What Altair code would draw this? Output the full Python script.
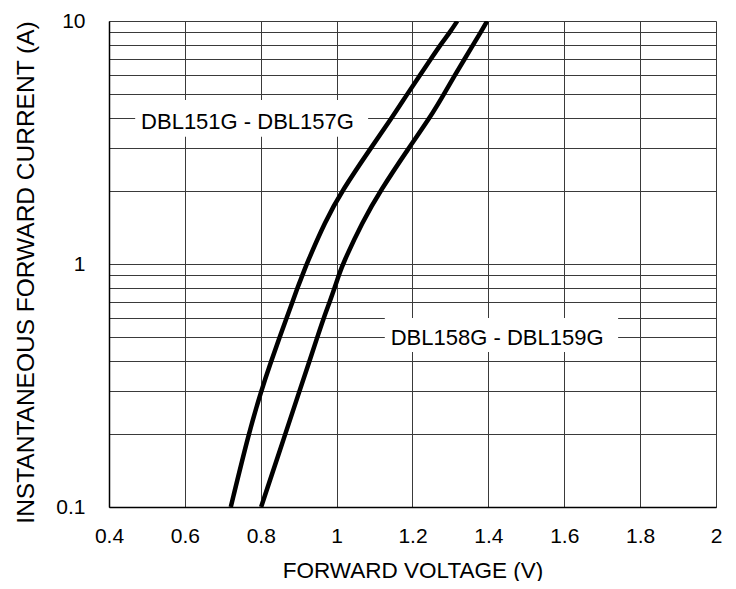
import altair as alt
import pandas as pd

# Forward current (A) at which each voltage was read
current = [0.1, 0.2, 0.3, 0.4, 0.5, 0.6, 0.7, 0.8, 0.9, 1, 1.5, 2, 3, 4, 5, 6, 7, 8, 9, 10]
# Forward voltage (V) for each series
v_151_157 = [0.721, 0.768, 0.801, 0.828, 0.850, 0.868, 0.884, 0.897, 0.910, 0.921,
             0.970, 1.014, 1.090, 1.146, 1.186, 1.220, 1.249, 1.274, 1.299, 1.318]
v_158_159 = [0.801, 0.865, 0.902, 0.929, 0.949, 0.966, 0.982, 0.995, 1.006, 1.016,
             1.069, 1.115, 1.190, 1.246, 1.283, 1.312, 1.338, 1.360, 1.380, 1.397]
series_names = ["DBL151G - DBL157G", "DBL158G - DBL159G"]

# annotation labels (data coordinates)
label_v = [0.765, 1.423]
label_i = [3.85, 0.496]
box_v0 = [0.469, 1.127]
box_v1 = [1.083, 1.742]
box_i0 = [3.34, 0.434]
box_i1 = [4.73, 0.60]

x_ticks = [0.4, 0.6, 0.8, 1.0, 1.2, 1.4, 1.6, 1.8, 2.0]
y_ticks = [0.1, 0.2, 0.3, 0.4, 0.5, 0.6, 0.7, 0.8, 0.9,
           1, 2, 3, 4, 5, 6, 7, 8, 9, 10]

FONT = "Liberation Sans"

rows = []
for name, vs in zip(series_names, [v_151_157, v_158_159]):
    for i, v in zip(current, vs):
        rows.append({"series": name, "V": v, "I": i})
df = pd.DataFrame(rows)

ann = pd.DataFrame({
    "label": series_names,
    "V": label_v, "I": label_i,
    "V0": box_v0, "V1": box_v1, "I0": box_i0, "I1": box_i1,
})

xscale = alt.Scale(domain=[0.4, 2.0], nice=False, zero=False)
yscale = alt.Scale(type="log", domain=[0.1, 10], nice=False)

xaxis = alt.Axis(
    values=x_ticks, format="~g", title="FORWARD VOLTAGE (V)",
    grid=True, gridColor="#3a3a3a", gridWidth=1, gridOpacity=1,
    ticks=False, tickSize=0, labelPadding=18, labelFontSize=21,
    labelFont=FONT, labelColor="#000", titleFont=FONT, titleFontSize=22.5,
    titleFontWeight="normal", titleColor="#000", titlePadding=13,
    domainColor="#000", domainWidth=1.5, labelFlush=False,
)
yaxis = alt.Axis(
    values=y_ticks, title="INSTANTANEOUS FORWARD CURRENT (A)",
    labelExpr="datum.value == 0.1 ? '0.1' : (datum.value == 1 ? '1' : (datum.value == 10 ? '10' : ''))",
    grid=True, gridColor="#3a3a3a", gridWidth=1, gridOpacity=1,
    ticks=False, tickSize=0, labelPadding=24, labelFontSize=21,
    labelFont=FONT, labelColor="#000", titleFont=FONT, titleFontSize=24.5,
    titleFontWeight="normal", titleColor="#000", titlePadding=17,
    domainColor="#000", domainWidth=1.5, labelFlush=False, titleY=251,
)

lines = alt.Chart(df).mark_line(
    color="#000", strokeWidth=4.5, interpolate="basis", clip=True
).encode(
    x=alt.X("V:Q", scale=xscale, axis=xaxis),
    y=alt.Y("I:Q", scale=yscale, axis=yaxis),
    detail="series:N",
)

boxes = alt.Chart(ann).mark_rect(color="white").encode(
    x=alt.X("V0:Q", scale=xscale),
    x2="V1:Q",
    y=alt.Y("I0:Q", scale=yscale),
    y2="I1:Q",
)

texts = alt.Chart(ann).mark_text(
    font=FONT, fontSize=22, color="#000", align="center", baseline="middle"
).encode(
    x=alt.X("V:Q", scale=xscale),
    y=alt.Y("I:Q", scale=yscale),
    text="label:N",
)

chart = alt.layer(boxes, lines, texts).properties(
    width=607, height=486,
    autosize=alt.AutoSizeParams(type="none"),
    padding={"left": 101, "top": 13, "right": 8, "bottom": 74},
).configure_view(
    stroke="#8c8c8c", strokeWidth=2
).configure(background="white")

chart.save("out.html", embed_options={"renderer": "svg", "actions": False})
